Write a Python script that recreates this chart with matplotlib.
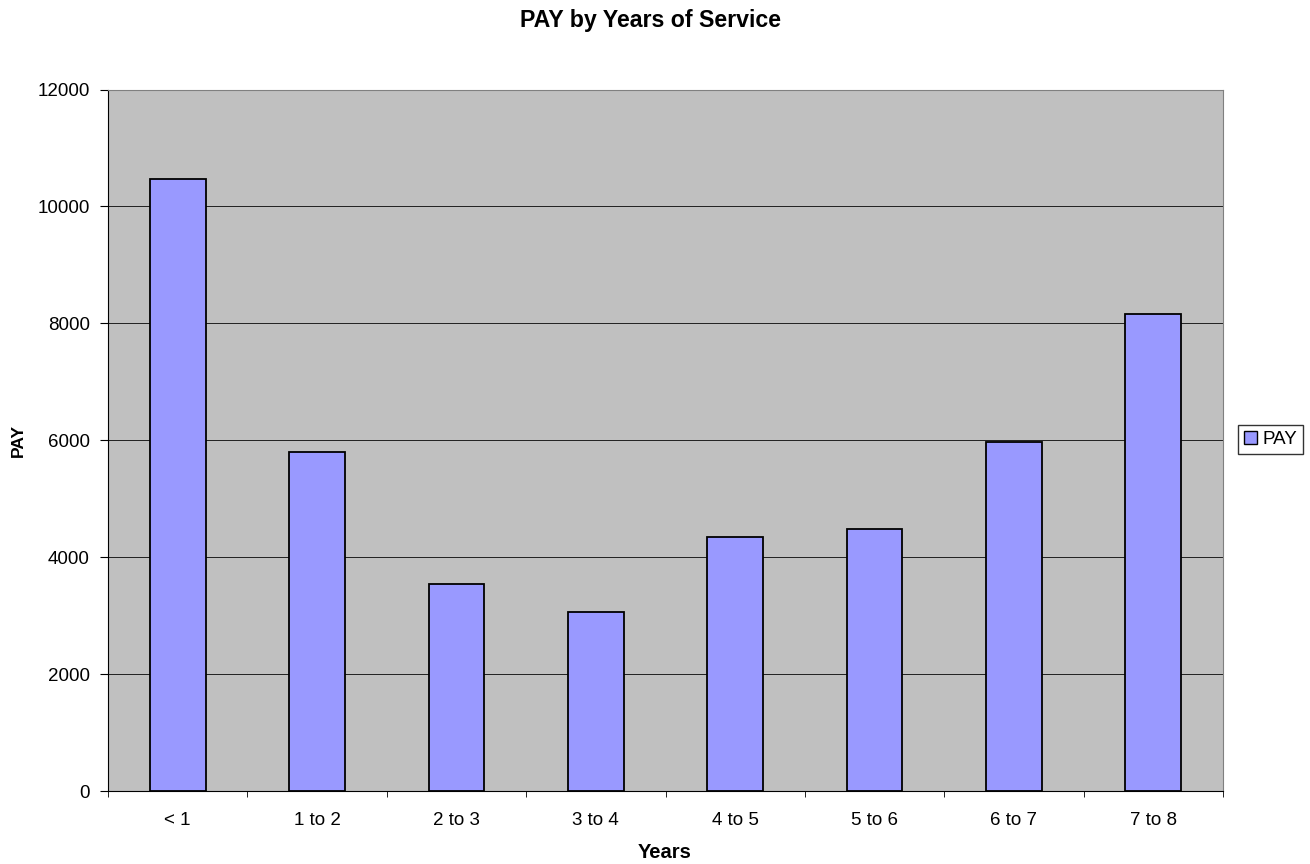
import numpy as np
import matplotlib.pyplot as plt
from matplotlib.patches import Patch

plt.rcParams['font.family'] = ['Liberation Sans', 'DejaVu Sans']

# pay per years-of-service band
years = ['< 1', '1 to 2', '2 to 3', '3 to 4', '4 to 5', '5 to 6', '6 to 7', '7 to 8']
pay = [10474, 5795, 3535, 3063, 4345, 4487, 5977, 8158]

W, H = 1310, 864
fig = plt.figure(figsize=(W / 100, H / 100), dpi=100)
ax = fig.add_axes([108 / W, 1 - 791 / H, (1223 - 108) / W, (791 - 89.5) / H])
ax.set_facecolor('#c0c0c0')

x = np.arange(len(years))
ax.bar(x, pay, width=0.4, color='#9999ff', edgecolor='black', linewidth=1.3, zorder=3)

ax.set_xlim(-0.5, len(years) - 0.5)
ax.set_ylim(0, 12000)
ax.set_yticks(np.arange(0, 12001, 2000))
ax.yaxis.grid(True, color='#202020', linewidth=0.7, zorder=1)
ax.set_axisbelow(True)

# category labels centred, tick marks on the boundaries
ax.set_xticks(x)
ax.set_xticklabels(years, fontsize=13.5)
ax.tick_params(axis='x', which='major', length=0, pad=15)
ax.set_xticks(np.arange(-0.5, len(years)), minor=True)
ax.tick_params(axis='x', which='minor', length=4, direction='out', color='black')
ax.tick_params(axis='y', length=6, direction='out', labelsize=13.5, pad=7)

for side in ['top', 'right']:
    ax.spines[side].set_color('#808080')
ax.spines['left'].set_color('black')
ax.spines['bottom'].set_color('black')

fig.text(665 / W, 1 - 858 / H, 'Years', fontsize=14.5, fontweight='bold',
         ha='center', va='baseline')
fig.text(18 / W, 1 - 440 / H, 'PAY', fontsize=12.6, fontweight='bold',
         rotation=90, ha='center', va='center')
fig.text(651 / W, 1 - 20 / H, 'PAY by Years of Service', fontsize=16.7,
         fontweight='bold', ha='center', va='center')

leg = fig.legend(handles=[Patch(facecolor='#9999ff', edgecolor='black', label='PAY')],
                 loc='center left', bbox_to_anchor=(1238 / W, 1 - 439.5 / H), fontsize=13.5,
                 frameon=True, fancybox=False, edgecolor='black',
                 handlelength=0.7, handleheight=0.7, handletextpad=0.25,
                 borderpad=0.33, borderaxespad=0)
leg.get_frame().set_linewidth(1.0)

fig.savefig('out.png', dpi=100)
